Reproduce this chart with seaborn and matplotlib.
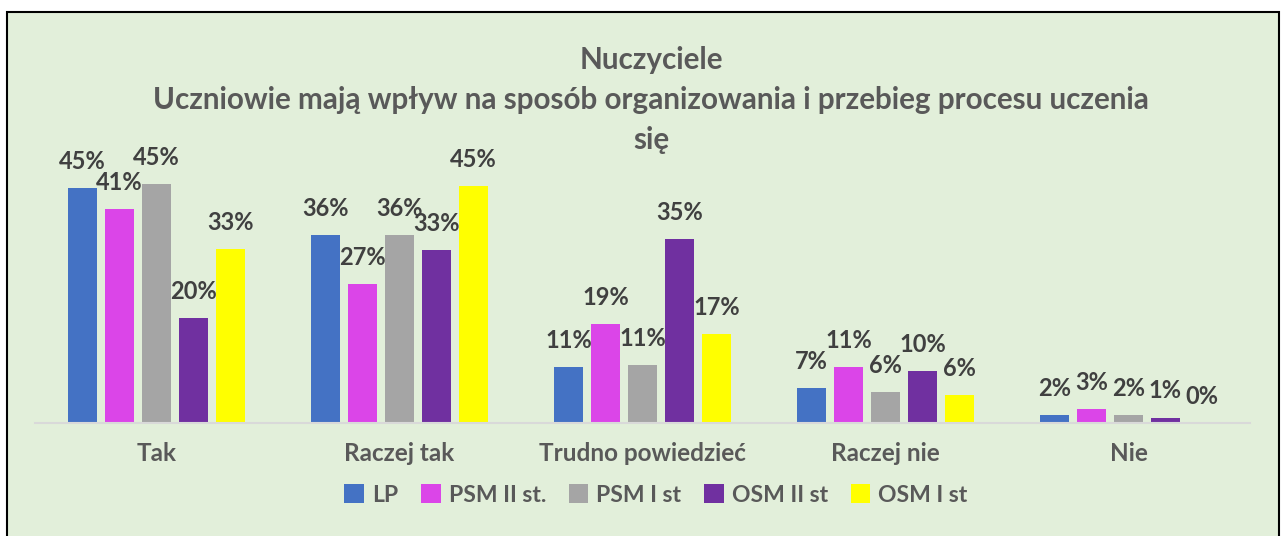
import pandas as pd
import seaborn as sns
import matplotlib.pyplot as plt
from matplotlib.patches import Patch, Rectangle

# Dane wykresu
kategorie = ["Tak", "Raczej tak", "Trudno powiedzieć", "Raczej nie", "Nie"]
serie = ["LP", "PSM II st.", "PSM I st", "OSM II st", "OSM I st"]
kolory = ["#4472C4", "#DB45E8", "#A5A5A5", "#7030A0", "#FFFF00"]

# wysokości słupków (%)
lp = [44.8, 35.9, 10.6, 6.6, 1.5]
psm_ii = [40.8, 26.5, 18.9, 10.6, 2.7]
psm_i = [45.6, 35.9, 11.1, 5.9, 1.5]
osm_ii = [20.0, 33.0, 35.1, 9.9, 1.0]
osm_i = [33.2, 45.2, 16.9, 5.3, 0.0]

# etykiety danych (zaokrąglone jak w oryginale)
etykiety_lp = ["45%", "36%", "11%", "7%", "2%"]
etykiety_psm_ii = ["41%", "27%", "19%", "11%", "3%"]
etykiety_psm_i = ["45%", "36%", "11%", "6%", "2%"]
etykiety_osm_ii = ["20%", "33%", "35%", "10%", "1%"]
etykiety_osm_i = ["33%", "45%", "17%", "6%", "0%"]

wartosci = [lp, psm_ii, psm_i, osm_ii, osm_i]
etykiety = [etykiety_lp, etykiety_psm_ii, etykiety_psm_i, etykiety_osm_ii, etykiety_osm_i]

rows = []
for s, vals in zip(serie, wartosci):
    for k, v in zip(kategorie, vals):
        rows.append({"Kategoria": k, "Seria": s, "Wartosc": v})
df = pd.DataFrame(rows)

tlo = "#E2EFDA"
szary_tekst = "#595959"

plt.rcParams["font.family"] = ["Lato", "DejaVu Sans"]
plt.rcParams["font.weight"] = "bold"

fig = plt.figure(figsize=(12.82, 5.36), dpi=100, facecolor="white")

# tło i ramka wykresu
ramka = Rectangle((7 / 1282, -0.02), 1272 / 1282, 1 - 12 / 536 + 0.02,
                  transform=fig.transFigure, facecolor=tlo, edgecolor="black",
                  linewidth=1.5, zorder=-5)
fig.patches.append(ramka)

ax = fig.add_axes([35 / 1282, 1 - 423 / 536, 1215 / 1282, 283 / 536])
ax.set_facecolor("none")

sns.barplot(data=df, x="Kategoria", y="Wartosc", hue="Seria", order=kategorie,
            hue_order=serie, palette=kolory, width=0.76, gap=0.2,
            linewidth=0, saturation=1, legend=False, ax=ax)

ax.set_xlim(-0.5, 4.5)
ax.set_ylim(0, 283 / 5.24)

for cont, lab in zip(ax.containers, etykiety):
    ax.bar_label(cont, labels=lab, padding=11, fontsize=17, fontweight="bold",
                 color="#404040")

for side in ["left", "right", "top"]:
    ax.spines[side].set_visible(False)
ax.spines["bottom"].set_color("#D9D9D9")
ax.spines["bottom"].set_linewidth(1.5)
ax.set_yticks([])
ax.set_xlabel("")
ax.set_ylabel("")
ax.set_xticks(range(len(kategorie)), kategorie, fontweight="bold")
ax.tick_params(axis="x", length=0, pad=14, labelsize=17.5, labelcolor=szary_tekst)

# tytuł
fig.text(0.508, 1 - 60 / 536, "Nuczyciele", ha="center", va="center",
         fontsize=21.3, fontweight="bold", color=szary_tekst)
fig.text(0.508, 1 - 100 / 536,
         "Uczniowie mają wpływ na sposób organizowania i przebieg procesu uczenia",
         ha="center", va="center", fontsize=21.3, fontweight="bold", color=szary_tekst)
fig.text(0.508, 1 - 140 / 536, "się", ha="center", va="center",
         fontsize=21.3, fontweight="bold", color=szary_tekst)

# legenda
uchwyty = [Patch(facecolor=c, edgecolor="none") for c in kolory]
leg = fig.legend(uchwyty, serie, loc="center", bbox_to_anchor=(656 / 1282, 1 - 495 / 536),
                 ncol=5, frameon=False, handlelength=0.85, handleheight=0.85,
                 handletextpad=0.35, columnspacing=1.0,
                 prop={"size": 16.5, "weight": "bold"})
for t in leg.get_texts():
    t.set_color(szary_tekst)

fig.savefig("out.png", dpi=100, facecolor="white")
